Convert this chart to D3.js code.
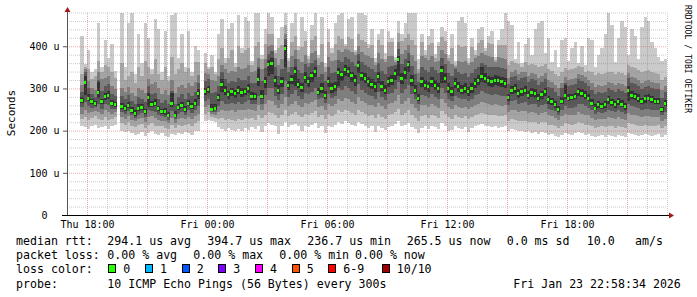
<!DOCTYPE html>
<html>
<head>
<meta charset="utf-8">
<script src="https://cdn.jsdelivr.net/npm/d3@7"></script>
<style>
  html, body { margin: 0; padding: 0; background: #fff; }
  svg { display: block; }
  text { font-family: 'DejaVu Sans Mono', monospace; fill: #000; }
</style>
</head>
<body>
<div id="chart"></div>
<script>
// smokeping rtt data in microseconds, one column every 10 minutes from Thu 17:40
const startTime = new Date(2026, 0, 22, 17, 40);
const stepMinutes = 10;

const median = [
  272,313,277,268,264,291,268,280,284,265, 262,null,258,252,260,248,240,252,255,245,
  278,262,265,252,245,245,237,265,237,255, 260,250,265,258,265,288,null,293,298,250,
  252,278,310,296,285,292,287,296,290,293, 300,280,280,322,282,316,357,360,318,295,
  316,395,307,322,341,310,303,327,316,330, 341,290,300,283,316,300,305,337,332,345,
  339,330,320,355,330,324,316,310,304,328, 305,296,316,320,335,369,324,338,357,320,
  296,277,316,308,304,316,308,300,343,324, 300,292,312,304,296,300,292,300,312,320,
  328,324,318,316,320,318,316,312,278,296, 300,288,292,296,284,290,288,277,285,292,
  273,268,261,249,270,284,277,279,281,292, 288,284,277,265,253,261,258,261,273,266,
  261,269,263,257,296,284,280,277,269,275, 277,273,270,269,249,265
];

// the ten pings of each column, sorted from fastest (ping1) to slowest (ping10)
const ping1 = [
  212,208,205,210,214,206,209,212,204,210, 213,null,200,196,198,194,190,192,196,188,
  194,198,192,190,194,188,186,192,190,194, 192,196,194,190,198,200,null,224,226,222,
  220,208,204,200,206,202,198,204,200,206, 202,208,204,210,196,212,218,214,210,192,
  212,220,208,214,216,210,198,212,208,214, 218,206,210,194,212,208,214,220,216,222,
  218,214,210,220,216,212,206,210,196,212, 206,202,208,212,216,222,210,214,218,208,
  204,194,206,210,204,212,208,204,218,212, 198,202,210,206,204,208,196,206,210,214,
  216,212,210,208,212,206,208,210,200,204, 202,198,200,196,198,194,196,192,196,194,
  190,192,188,186,190,194,192,190,194,196, 194,190,192,188,186,188,190,186,190,188,
  186,190,188,186,194,192,190,188,190,192, 190,188,190,192,186,190
];
const ping2 = [
  228,232,226,230,234,228,225,232,226,228, 232,null,218,214,220,212,208,214,216,206,
  214,218,212,210,212,206,204,214,206,214, 212,214,216,212,218,222,null,240,244,232,
  230,228,230,226,228,226,224,228,226,230, 228,230,226,236,230,238,244,242,236,230,
  238,250,234,240,244,236,232,240,236,242, 246,232,236,228,240,234,240,248,244,250,
  246,242,238,250,244,240,234,236,230,240, 232,228,236,240,244,252,238,242,248,236,
  230,224,234,236,230,238,234,230,246,240, 232,228,236,232,230,234,228,232,236,240,
  242,240,238,236,238,234,234,236,222,228, 226,222,224,222,220,220,220,216,220,220,
  214,214,210,206,212,218,216,214,216,220, 218,214,214,210,206,208,210,208,212,210,
  206,210,208,206,218,216,214,212,212,214, 212,210,212,214,206,210
];
const ping3 = [
  240,250,242,244,246,245,240,248,244,240, 244,null,232,228,234,226,222,228,230,220,
  232,234,230,226,224,222,218,230,218,228, 230,228,232,228,234,240,null,256,260,240,
  238,244,250,246,246,248,244,250,248,250, 252,248,246,260,250,262,272,270,260,254,
  262,280,258,264,270,260,256,266,262,268, 272,256,258,250,264,258,262,274,270,278,
  274,268,264,280,270,266,260,260,256,266, 258,252,262,266,270,284,264,270,278,262,
  254,246,260,260,256,262,258,254,274,266, 256,252,260,256,254,256,252,256,260,264,
  268,266,262,260,264,260,258,260,244,250, 250,244,246,246,242,244,242,238,242,244,
  236,234,230,226,234,240,236,236,238,244, 240,238,236,230,226,228,228,228,232,230,
  228,232,228,226,242,238,236,234,232,234, 234,232,232,232,224,228
];
const ping4 = [
  255,268,258,254,256,262,252,264,260,252, 252,null,244,240,246,236,230,238,242,232,
  250,246,244,238,234,232,226,246,228,240, 244,238,248,242,248,258,null,270,274,244,
  244,258,270,264,262,266,262,268,264,268, 272,262,262,282,264,284,300,300,282,272,
  286,318,280,288,296,282,276,290,286,292, 300,274,278,266,288,278,282,300,296,306,
  300,294,288,310,296,290,284,282,276,292, 280,272,286,290,298,316,290,298,308,286,
  274,262,284,282,278,286,280,276,302,290, 276,270,282,278,274,276,270,276,284,288,
  294,290,286,284,288,284,282,282,260,270, 272,264,266,268,260,264,262,256,260,264,
  252,250,246,238,250,258,254,254,256,264, 262,258,254,248,240,244,242,244,250,246,
  244,248,244,240,264,258,256,254,250,252, 252,250,248,248,236,244
];
const ping5 = [
  266,285,270,262,259,278,262,272,276,258, 257,null,252,246,254,242,235,246,250,240,
  255,256,258,246,240,238,232,256,232,248, 254,244,258,252,258,276,null,284,290,247,
  249,270,292,284,276,282,278,286,280,284, 290,272,272,306,274,302,330,335,304,286,
  304,350,296,310,305,300,292,312,304,316, 326,284,290,276,304,290,294,305,318,330,
  326,316,306,336,318,312,304,298,292,314, 294,286,304,308,320,330,310,322,338,306,
  286,270,304,296,292,304,296,290,312,312, 290,282,300,292,286,290,282,290,300,308,
  316,312,306,304,308,306,304,300,270,286, 290,278,282,286,276,280,278,270,276,282,
  264,260,254,244,262,276,270,272,274,282, 280,276,270,258,248,254,252,254,264,258,
  254,260,256,250,270,276,272,268,262,266, 270,266,262,262,244,258
];
const ping6 = [
  280,330,286,274,270,315,276,290,293,272, 268,null,266,260,268,256,248,262,262,252,
  290,270,274,258,252,254,244,290,246,262, 268,258,272,266,274,298,null,302,306,262,
  264,288,322,306,294,300,296,306,300,302, 310,292,290,345,296,328,368,372,330,308,
  326,404,318,332,352,322,314,338,328,340, 350,300,312,294,328,312,316,348,342,356,
  350,340,332,364,340,336,328,322,316,338, 318,308,328,332,346,378,336,350,366,332,
  308,288,328,320,316,328,320,312,354,336, 312,304,324,316,308,312,304,312,324,332,
  352,336,330,328,332,330,328,324,288,306, 310,298,302,306,294,300,298,286,294,302,
  282,278,270,258,280,308,286,288,290,302, 298,294,286,274,262,270,266,270,282,274,
  270,278,272,266,306,294,290,286,278,284, 286,282,278,278,256,272
];
const ping7 = [
  292,340,300,288,280,320,295,305,310,288, 282,null,282,274,284,270,262,280,276,268,
  305,288,290,276,266,272,262,294,264,280, 286,276,290,282,292,312,null,318,322,290,
  292,306,338,322,312,318,315,324,320,320, 330,312,312,352,318,348,382,388,350,330,
  346,418,338,352,370,344,336,358,350,360, 368,326,334,318,350,336,340,368,362,374,
  370,362,354,382,362,356,350,346,340,360, 342,334,350,354,356,394,358,370,384,354,
  334,316,350,344,340,350,344,336,372,358, 336,330,346,340,334,336,328,336,346,352,
  360,356,352,350,352,350,348,346,310,328, 330,320,324,326,316,322,320,308,316,322,
  304,300,292,282,300,314,306,308,310,322, 318,314,306,296,286,292,290,292,302,296,
  292,298,294,290,324,314,310,306,298,304, 306,302,298,298,278,292
];
const ping8 = [
  308,345,318,300,296,340,322,325,330,305, 298,null,300,292,304,290,282,300,296,290,
  322,310,315,300,288,296,284,320,290,304, 308,300,312,305,316,332,null,336,334,320,
  318,330,356,345,336,342,340,350,346,348, 356,340,342,372,346,370,400,404,372,356,
  370,430,352,376,390,370,362,380,360,384, 388,356,362,340,374,364,368,390,386,394,
  392,386,380,400,386,380,376,372,355,384, 370,362,376,378,362,410,382,392,402,380,
  364,336,376,372,368,376,362,364,392,382, 364,358,350,366,362,364,356,362,372,376,
  384,380,376,374,362,374,372,370,325,340, 344,334,338,340,330,336,334,324,330,336,
  320,316,308,300,314,326,320,322,324,334, 332,328,320,312,304,308,306,308,316,312,
  308,314,310,306,336,328,324,320,314,318, 320,316,312,312,296,306
];
const ping9 = [
  335,350,345,322,330,365,340,355,350,340, 325,null,360,320,330,340,312,350,330,365,
  352,335,370,335,320,350,318,375,335,345, 360,338,348,330,362,362,null,360,345,350,
  335,370,395,360,372,390,352,400,385,392, 395,355,400,410,370,405,430,430,385,395,
  402,450,365,410,425,390,398,412,370,415, 425,372,405,352,410,385,405,425,418,400,
  422,418,386,428,416,410,395,404,362,414, 402,370,410,410,368,432,412,420,428,414,
  402,345,410,380,402,408,372,400,422,412, 372,396,355,402,398,400,360,398,380,408,
  414,388,408,406,368,404,402,402,355,365, 360,358,352,362,355,358,356,350,354,358,
  346,342,335,330,340,348,344,346,348,354, 352,340,342,338,332,336,334,336,340,338,
  334,338,336,332,355,350,348,344,338,342, 344,340,336,334,320,328
];
const ping10 = [
  424,358,391,340,345,455,352,415,372,405, 342,null,480,350,455,480,335,430,360,455,
  420,345,465,440,338,435,330,475,480,372, 430,352,435,340,400,392,null,384,350,380,
  340,430,465,372,440,455,360,475,395,470, 460,365,480,480,380,440,480,470,392,420,
  445,480,372,455,480,400,470,435,378,450, 480,380,470,360,440,395,455,475,480,405,
  465,470,392,480,480,475,405,440,372,430, 440,385,435,420,375,460,430,455,480,480,
  480,370,430,390,425,440,382,410,445,435, 380,430,365,460,470,455,372,420,390,440,
  445,395,425,435,375,415,440,480,460,450, 370,410,360,405,420,380,440,455,460,385,
  420,362,390,352,415,420,365,395,410,360, 400,355,420,415,350,380,395,430,480,450,
  362,420,460,445,380,440,425,370,445,470, 460,410,395,375,365,370
];

const yLabelValues = [0, 100, 200, 300, 400];
const rttStats = ['294.1 us avg', '394.7 us max', '236.7 us min', '265.5 us now', '0.0 ms sd', '10.0', 'am/s'];
const lossStats = ['0.00 % avg', '0.00 % max', '0.00 % min', '0.00 % now'];
const lossLabels = ['0', '1', '2', '3', '4', '5', '6-9', '10/10'];
const lossColors = ['#26ff00', '#00b8ff', '#0059ff', '#7e00ff', '#ff00ff', '#ff5500', '#ff0000', '#a10000'];
const probeText = '10 ICMP Echo Pings (56 Bytes) every 300s';
const stampText = 'Fri Jan 23 22:58:34 2026';

// outer band first, darkest pair of pings last
const smokeColors = ['#cacaca', '#a4a4a4', '#7e7e7e', '#585858', '#323232'];

const width = 697;
const height = 297;
const plotLeft = 67;
const plotRight = 667;
const plotTop = 12.5;
const plotBottom = 215;

const pings = [ping1, ping2, ping3, ping4, ping5, ping6, ping7, ping8, ping9, ping10];
const steps = median.map((m, i) => ({
  t: d3.timeMinute.offset(startTime, i * stepMinutes),
  median: m,
  pings: pings.map(p => p[i])
})).filter(d => d.median !== null);

const x = d3.scaleTime()
  .domain([new Date(2026, 0, 22, 17, 0), new Date(2026, 0, 23, 23, 0)])
  .range([plotLeft, plotRight]);
const y = d3.scaleLinear()
  .domain([0, 480])
  .range([plotBottom, plotTop]);

const svg = d3.select('#chart')
  .append('svg')
  .attr('width', width)
  .attr('height', height);

svg.append('defs').append('clipPath')
  .attr('id', 'plotClip')
  .append('rect')
  .attr('x', plotLeft)
  .attr('y', plotTop)
  .attr('width', plotRight - plotLeft)
  .attr('height', plotBottom - plotTop);

const plot = svg.append('g')
  .attr('clip-path', 'url(#plotClip)')
  .attr('shape-rendering', 'crispEdges');

const colW = d => x(d3.timeMinute.offset(d.t, stepMinutes)) - x(d.t);

// smoke: each band spans ping k to ping (11 - k)
smokeColors.forEach((color, k) => {
  plot.append('g')
    .selectAll('rect')
    .data(steps)
    .enter()
    .append('rect')
    .attr('x', d => x(d.t))
    .attr('width', colW)
    .attr('y', d => y(d.pings[9 - k]))
    .attr('height', d => y(d.pings[k]) - y(d.pings[9 - k]))
    .attr('fill', color);
});

// median marker, coloured by loss (all zero here)
plot.append('g')
  .selectAll('rect')
  .data(steps)
  .enter()
  .append('rect')
  .attr('x', d => x(d.t))
  .attr('width', d => colW(d) - 1)
  .attr('y', d => y(d.median) - 1.5)
  .attr('height', 3)
  .attr('fill', lossColors[0]);

// grid, drawn over the data like rrdtool does
const hours = d3.timeHour.range(x.domain()[0], d3.timeHour.offset(x.domain()[1], 1));
const minorHours = hours.filter(h => h.getHours() % 3 !== 0);
const majorHours = hours.filter(h => h.getHours() % 3 === 0);
const minorY = d3.range(20, 481, 20).filter(v => v % 100 !== 0);
const majorY = d3.range(100, 481, 100);

function grid(axis, transform, color, opacity) {
  const g = svg.append('g')
    .attr('transform', transform)
    .call(axis);
  g.select('.domain').remove();
  g.selectAll('.tick text').remove();
  g.selectAll('.tick line')
    .attr('stroke', color)
    .attr('stroke-opacity', opacity)
    .attr('stroke-dasharray', '1,1');
}

grid(d3.axisBottom(x).tickValues(minorHours).tickSize(-(plotBottom - plotTop)),
  `translate(0,${plotBottom})`, '#808080', 0.4);
grid(d3.axisLeft(y).tickValues(minorY).tickSize(-(plotRight - plotLeft)),
  `translate(${plotLeft},0)`, '#808080', 0.4);
grid(d3.axisBottom(x).tickValues(majorHours).tickSize(-(plotBottom - plotTop)),
  `translate(0,${plotBottom})`, '#e04040', 0.45);
grid(d3.axisLeft(y).tickValues(majorY).tickSize(-(plotRight - plotLeft)),
  `translate(${plotLeft},0)`, '#e04040', 0.45);

// y labels
const yAxis = svg.append('g')
  .attr('transform', `translate(${plotLeft},0)`)
  .call(d3.axisLeft(y)
    .tickValues(yLabelValues)
    .tickSize(4)
    .tickPadding(3.5)
    .tickFormat(d => d === 0 ? '0\u00a0\u00a0' : d + ' u'));
yAxis.select('.domain').remove();
yAxis.selectAll('.tick line').attr('stroke', '#555');
yAxis.selectAll('.tick text')
  .attr('font-family', "'DejaVu Sans Mono', monospace")
  .attr('font-size', 10)
  .attr('fill', '#000');

// x labels
const xAxis = svg.append('g')
  .attr('transform', `translate(0,${plotBottom})`)
  .call(d3.axisBottom(x)
    .tickValues(hours.filter(h => h.getHours() % 6 === 0))
    .tickSize(0)
    .tickPadding(6)
    .tickFormat(d3.timeFormat('%a %H:%M')));
xAxis.select('.domain').remove();
xAxis.selectAll('.tick text')
  .attr('font-family', "'DejaVu Sans Mono', monospace")
  .attr('font-size', 10)
  .attr('fill', '#000');

// axes with arrows
svg.append('line')
  .attr('x1', plotLeft + 0.5).attr('x2', plotLeft + 0.5)
  .attr('y1', plotBottom + 1).attr('y2', 10)
  .attr('stroke', '#555');
svg.append('line')
  .attr('x1', 62).attr('x2', 669)
  .attr('y1', plotBottom + 0.5).attr('y2', plotBottom + 0.5)
  .attr('stroke', '#000');
svg.append('path')
  .attr('d', `M669,${plotBottom - 2.5}L674,${plotBottom + 0.5}L669,${plotBottom + 3.5}Z`)
  .attr('fill', '#a01818');
svg.append('path')
  .attr('d', `M${plotLeft - 2.5},12L${plotLeft + 0.5},7L${plotLeft + 3.5},12Z`)
  .attr('fill', '#a01818');

svg.append('text')
  .attr('transform', 'translate(15,113) rotate(-90)')
  .attr('text-anchor', 'middle')
  .attr('font-family', "'DejaVu Sans', sans-serif")
  .attr('font-size', 11)
  .text('Seconds');

svg.append('text')
  .attr('transform', 'translate(684.5,5) rotate(90)')
  .attr('font-size', 8)
  .attr('fill', '#b4b4b4')
  .attr('textLength', 108)
  .text('RRDTOOL / TOBI OETIKER');

// legend
const legend = svg.append('g')
  .attr('font-size', 11.6)
  .style('white-space', 'pre');
const rowY = [245, 259.2, 273.4, 287.6];
const rttX = [107.3, 207.3, 307.3, 406.7, 506.7, 586.7, 635];
const lossX = [107.3, 193.3, 279.3, 355];
const boxX = [108.3, 145, 181.7, 218.3, 255, 291.7, 328.3, 381.7];

['median rtt:', 'packet loss:', 'loss color:', 'probe:'].forEach((t, i) => {
  legend.append('text').attr('x', 16).attr('y', rowY[i]).text(t);
});
rttStats.forEach((t, i) => {
  legend.append('text').attr('x', rttX[i]).attr('y', rowY[0]).text(t);
});
lossStats.forEach((t, i) => {
  legend.append('text').attr('x', lossX[i]).attr('y', rowY[1]).text(t);
});
lossLabels.forEach((t, i) => {
  legend.append('rect')
    .attr('x', Math.round(boxX[i]) + 0.5)
    .attr('y', 264.5)
    .attr('width', 7)
    .attr('height', 8)
    .attr('fill', lossColors[i])
    .attr('stroke', '#000');
  legend.append('text').attr('x', boxX[i] + 15).attr('y', rowY[2]).text(t);
});
legend.append('text').attr('x', 107.3).attr('y', rowY[3]).text(probeText);
legend.append('text').attr('x', 513.3).attr('y', rowY[3]).text(stampText);
</script>
</body>
</html>
